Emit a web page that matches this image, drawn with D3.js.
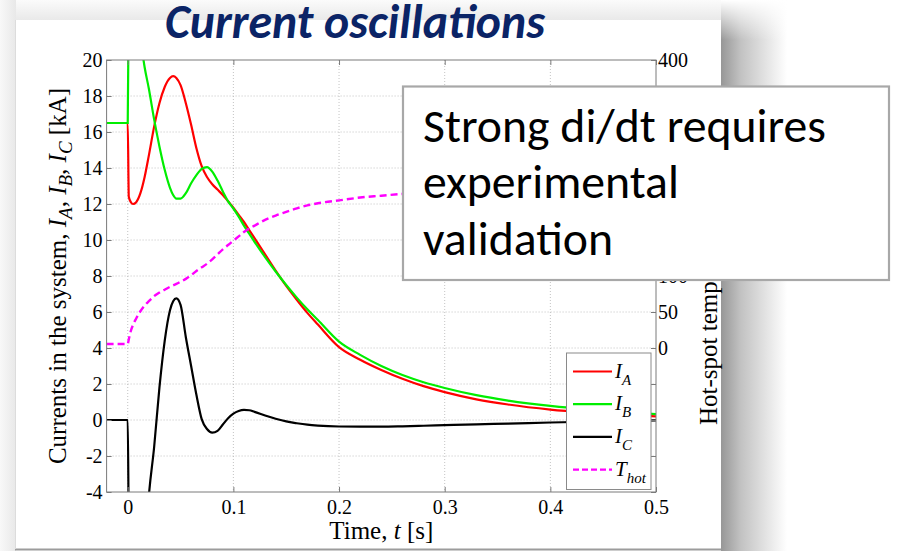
<!DOCTYPE html>
<html><head><meta charset="utf-8">
<script src="https://cdn.jsdelivr.net/npm/d3@7"></script>
<style>html,body{margin:0;padding:0;background:#fff;overflow:hidden}</style>
</head><body><svg id="c" width="897" height="551" xmlns="http://www.w3.org/2000/svg"></svg>
<script>
// ---------- data ----------
const time = [-0.02, 0, 0.001, 0.003, 0.005, 0.008, 0.012, 0.016, 0.02, 0.025, 0.03, 0.035, 0.04, 0.043, 0.046, 0.05, 0.055, 0.06, 0.065, 0.07, 0.075, 0.08, 0.085, 0.09, 0.095, 0.1, 0.105, 0.11, 0.115, 0.12, 0.13, 0.14, 0.15, 0.16, 0.17, 0.18, 0.2, 0.22, 0.24, 0.26, 0.28, 0.3, 0.33, 0.36, 0.4, 0.44, 0.47, 0.5];
const currentA = [16.5, 16.5, 12.4, 12.1, 12.0, 12.1, 12.6, 13.5, 14.7, 16.3, 17.6, 18.5, 19.0, 19.1, 19.0, 18.6, 17.6, 16.4, 15.1, 14.1, 13.5, 13.1, 12.8, 12.5, 12.15, 11.8, 11.4, 11.0, 10.55, 10.1, 9.2, 8.3, 7.45, 6.68, 5.95, 5.3, 4.05, 3.35, 2.78, 2.29, 1.88, 1.55, 1.15, 0.86, 0.58, 0.4, 0.29, 0.2];
const currentB = [16.5, 16.5, 23.5, 24.2, 24.0, 23.0, 21.2, 19.6, 18.4, 16.7, 15.2, 13.9, 12.9, 12.5, 12.3, 12.3, 12.6, 13.15, 13.6, 13.95, 14.05, 13.8, 13.3, 12.7, 12.15, 11.75, 11.3, 10.8, 10.35, 9.9, 9.05, 8.25, 7.5, 6.8, 6.15, 5.55, 4.35, 3.62, 3.0, 2.5, 2.1, 1.78, 1.38, 1.08, 0.78, 0.57, 0.45, 0.33];
const currentC = [0, 0, -6, -8.5, -10, -10.5, -9.5, -7.5, -4.2, -1.5, 1.8, 4.4, 6.1, 6.6, 6.76, 6.4, 4.6, 3.0, 1.4, 0.05, -0.5, -0.7, -0.6, -0.25, 0.1, 0.35, 0.5, 0.56, 0.54, 0.45, 0.25, 0.07, -0.08, -0.18, -0.26, -0.31, -0.36, -0.37, -0.37, -0.35, -0.32, -0.29, -0.24, -0.2, -0.14, -0.09, -0.05, -0.02];
const tempHot = [5.5, 5.5, 12, 24, 32, 41, 51, 59, 65, 72, 77, 81, 85, 87, 89, 92, 96, 101, 107, 112, 117, 123, 130, 137, 143, 149, 155, 161, 166, 170, 178, 184, 189, 194, 198, 201, 205, 209, 211.5, 214, 215.5, 217, 218.5, 220, 221, 222, 222.5, 223];
const xTicks = [0, 0.1, 0.2, 0.3, 0.4, 0.5];
const yLeftTicks = [-4, -2, 0, 2, 4, 6, 8, 10, 12, 14, 16, 18, 20];
const yRightTicks = [0, 50, 100, 150, 200, 250, 300, 350, 400];
const legendSubs = ["A", "B", "C", "hot"];
const titleText = "Current oscillations";
const calloutLines = ["Strong di/dt requires", "experimental", "validation"];

// ---------- layout ----------
const svg = d3.select("#c");
const L = 106.6, R = 656, T = 60, B = 492;
const serif = "'Liberation Serif','Times New Roman',serif";
const x = d3.scaleLinear().domain([-0.02, 0.5]).range([L, R]);
const yL = d3.scaleLinear().domain([-4, 20]).range([B, T]);
const yR = d3.scaleLinear().domain([-200, 400]).range([B, T]);

// ---------- slide frame / shadow ----------
const defs = svg.append("defs");
const gR = defs.append("linearGradient").attr("id", "shR").attr("x1", 0).attr("x2", 1).attr("y1", 0).attr("y2", 0);
gR.append("stop").attr("offset", 0).attr("stop-color", "#979797");
gR.append("stop").attr("offset", 0.3).attr("stop-color", "#c2c2c2");
gR.append("stop").attr("offset", 1).attr("stop-color", "#ffffff");
const gT = defs.append("linearGradient").attr("id", "shT").attr("x1", 0).attr("x2", 0).attr("y1", 0).attr("y2", 1);
gT.append("stop").attr("offset", 0).attr("stop-color", "#ffffff").attr("stop-opacity", 1);
gT.append("stop").attr("offset", 1).attr("stop-color", "#ffffff").attr("stop-opacity", 0);
const gTop = defs.append("linearGradient").attr("id", "shTop").attr("x1", 0).attr("x2", 0).attr("y1", 0).attr("y2", 1);
gTop.append("stop").attr("offset", 0).attr("stop-color", "#fbfbfb");
gTop.append("stop").attr("offset", 1).attr("stop-color", "#e9e9e9");
const gLeft = defs.append("linearGradient").attr("id", "shL").attr("x1", 0).attr("x2", 1).attr("y1", 0).attr("y2", 0);
gLeft.append("stop").attr("offset", 0).attr("stop-color", "#f8f8f8");
gLeft.append("stop").attr("offset", 1).attr("stop-color", "#e8e8e8");

svg.append("rect").attr("width", 897).attr("height", 551).attr("fill", "#fff");
svg.append("rect").attr("x", 0).attr("y", 0).attr("width", 721).attr("height", 20).attr("fill", "url(#shTop)");
svg.append("rect").attr("x", 0).attr("y", 0).attr("width", 16).attr("height", 551).attr("fill", "url(#shL)");
svg.append("rect").attr("x", 721).attr("y", 0).attr("width", 66).attr("height", 551).attr("fill", "url(#shR)");
svg.append("rect").attr("x", 721).attr("y", 0).attr("width", 66).attr("height", 40).attr("fill", "url(#shT)");
svg.append("rect").attr("x", 16).attr("y", 20).attr("width", 705).attr("height", 529).attr("fill", "#fff");
svg.append("line").attr("x1", 15).attr("x2", 721).attr("y1", 549.5).attr("y2", 549.5).attr("stroke", "#9c9c9c").attr("stroke-width", 2);
svg.append("line").attr("x1", 15.5).attr("x2", 15.5).attr("y1", 20).attr("y2", 549).attr("stroke", "#dcdcdc").attr("stroke-width", 1);

// ---------- grid ----------
defs.append("clipPath").attr("id", "plotClip").append("rect").attr("x", L).attr("y", T).attr("width", R - L).attr("height", B - T);
const grid = svg.append("g").attr("stroke", "#b4b4b4").attr("stroke-width", 0.8).attr("stroke-dasharray", "1,2");
grid.selectAll(".gx").data(xTicks.filter(d => d < 0.5)).join("line")
  .attr("x1", d => x(d)).attr("x2", d => x(d)).attr("y1", T).attr("y2", B);
grid.selectAll(".gy").data(yLeftTicks.filter(d => d > -4 && d < 20)).join("line")
  .attr("x1", L).attr("x2", R).attr("y1", d => yL(d)).attr("y2", d => yL(d));

// ---------- series ----------
const plot = svg.append("g").attr("clip-path", "url(#plotClip)");
const lineL = vals => d3.line().x((d, i) => x(time[i])).y(d => yL(d)).curve(d3.curveMonotoneX)(vals);
const lineR = vals => d3.line().x((d, i) => x(time[i])).y(d => yR(d)).curve(d3.curveMonotoneX)(vals);
plot.append("path").attr("d", lineL(currentA)).attr("fill", "none").attr("stroke", "#ff0000").attr("stroke-width", 2.2);
plot.append("path").attr("d", lineL(currentB)).attr("fill", "none").attr("stroke", "#00ee00").attr("stroke-width", 2.2);
plot.append("path").attr("d", lineL(currentC)).attr("fill", "none").attr("stroke", "#000000").attr("stroke-width", 2.2);
plot.append("path").attr("d", lineR(tempHot)).attr("fill", "none").attr("stroke", "#ff00ff").attr("stroke-width", 2.4).attr("stroke-dasharray", "7,4");

// ---------- axes ----------
function styleAxis(g) {
  g.attr("font-family", serif).attr("font-size", 20);
  g.select(".domain").remove();
  g.selectAll(".tick line").attr("stroke", "#7a7a7a").attr("stroke-width", 1);
  g.selectAll(".tick text").attr("font-family", serif).attr("font-size", 20).attr("fill", "#000");
}
const fmtX = d => d === 0 ? "0" : d3.format(".1f")(d);
const fmtY = d => String(d);
styleAxis(svg.append("g").attr("transform", `translate(0,${B})`)
  .call(d3.axisBottom(x).tickValues(xTicks).tickFormat(fmtX).tickSizeInner(-5).tickSizeOuter(0).tickPadding(8)));
styleAxis(svg.append("g").attr("transform", `translate(0,${T})`)
  .call(d3.axisTop(x).tickValues(xTicks).tickFormat("").tickSizeInner(-5).tickSizeOuter(0)));
styleAxis(svg.append("g").attr("transform", `translate(${L},0)`)
  .call(d3.axisLeft(yL).tickValues(yLeftTicks).tickFormat(fmtY).tickSizeInner(-5).tickSizeOuter(0).tickPadding(4)));
styleAxis(svg.append("g").attr("transform", `translate(${R},0)`)
  .call(d3.axisRight(yL).tickValues(yLeftTicks).tickFormat("").tickSizeInner(-5).tickSizeOuter(0)));
styleAxis(svg.append("g").attr("transform", `translate(${R},0)`)
  .call(d3.axisRight(yR).tickValues(yRightTicks).tickFormat(fmtY).tickSizeInner(-5).tickSizeOuter(0).tickPadding(2)));
svg.append("rect").attr("x", L).attr("y", T).attr("width", R - L).attr("height", B - T)
  .attr("fill", "none").attr("stroke", "#7a7a7a").attr("stroke-width", 1);

// ---------- axis labels ----------
const yl = svg.append("text").attr("transform", "translate(66,276) rotate(-90)")
  .attr("text-anchor", "middle").attr("font-family", serif).attr("font-size", 25).attr("fill", "#000");
yl.append("tspan").text("Currents in the system, ");
["A", "B", "C"].forEach((s, i) => {
  yl.append("tspan").attr("font-style", "italic").text("I");
  yl.append("tspan").attr("font-style", "italic").attr("font-size", 19).attr("dy", 6).text(s);
  yl.append("tspan").attr("dy", -6).text(i < 2 ? ", " : " [kA]");
});
svg.append("text").attr("transform", "translate(717,425) rotate(-90)")
  .attr("text-anchor", "start").attr("font-family", serif).attr("font-size", 25).attr("fill", "#000")
  .text("Hot-spot temperature [K]");
const xl = svg.append("text").attr("x", (L + R) / 2).attr("y", 539)
  .attr("text-anchor", "middle").attr("font-family", serif).attr("font-size", 25).attr("fill", "#000");
xl.append("tspan").text("Time, ");
xl.append("tspan").attr("font-style", "italic").text("t");
xl.append("tspan").text(" [s]");

// ---------- legend ----------
const lg = svg.append("g");
lg.append("rect").attr("x", 566.5).attr("y", 353).attr("width", 84.5).attr("height", 136.5)
  .attr("fill", "#fff").attr("stroke", "#8a8a8a").attr("stroke-width", 1);
const legColors = ["#ff0000", "#00ee00", "#000000", "#ff00ff"];
legendSubs.forEach((s, i) => {
  const yy = 371.5 + i * 32.7;
  lg.append("line").attr("x1", 573).attr("x2", 612).attr("y1", yy).attr("y2", yy)
    .attr("stroke", legColors[i]).attr("stroke-width", i === 3 ? 2.4 : 2.2)
    .attr("stroke-dasharray", i === 3 ? "6,3" : null);
  const t = lg.append("text").attr("x", 615).attr("y", yy + 6).attr("font-family", serif)
    .attr("font-size", 21).attr("font-style", "italic").attr("fill", "#000");
  t.append("tspan").text(i === 3 ? "T" : "I");
  t.append("tspan").attr("font-size", 15).attr("dy", 7).text(s);
});

// ---------- callout ----------
svg.append("rect").attr("x", 403).attr("y", 86.5).attr("width", 486).attr("height", 193.5)
  .attr("fill", "#fff").attr("stroke", "#a8a8a8").attr("stroke-width", 2.2);
const sans = "Carlito, Calibri, Lato, 'Open Sans', sans-serif";
const co = svg.append("g").attr("font-family", sans).attr("fill", "#000");
const baselines = [141.5, 198, 254.5];
const coTexts = calloutLines.map((s, i) => co.append("text").attr("x", 423).attr("y", baselines[i]).attr("font-size", 40).text(s));
const w0 = coTexts[0].node().getComputedTextLength();
const coSize = 40 * 403 / w0;
coTexts.forEach(t => t.attr("font-size", coSize));

// ---------- title ----------
const title = svg.append("text").attr("x", 355).attr("y", 38).attr("text-anchor", "middle")
  .attr("font-family", sans).attr("font-weight", "bold").attr("font-style", "italic")
  .attr("font-size", 40).attr("fill", "#0b2466").text(titleText);
const tw = title.node().getComputedTextLength();
title.attr("font-size", 40 * 380 / tw);
</script>
</body></html>
